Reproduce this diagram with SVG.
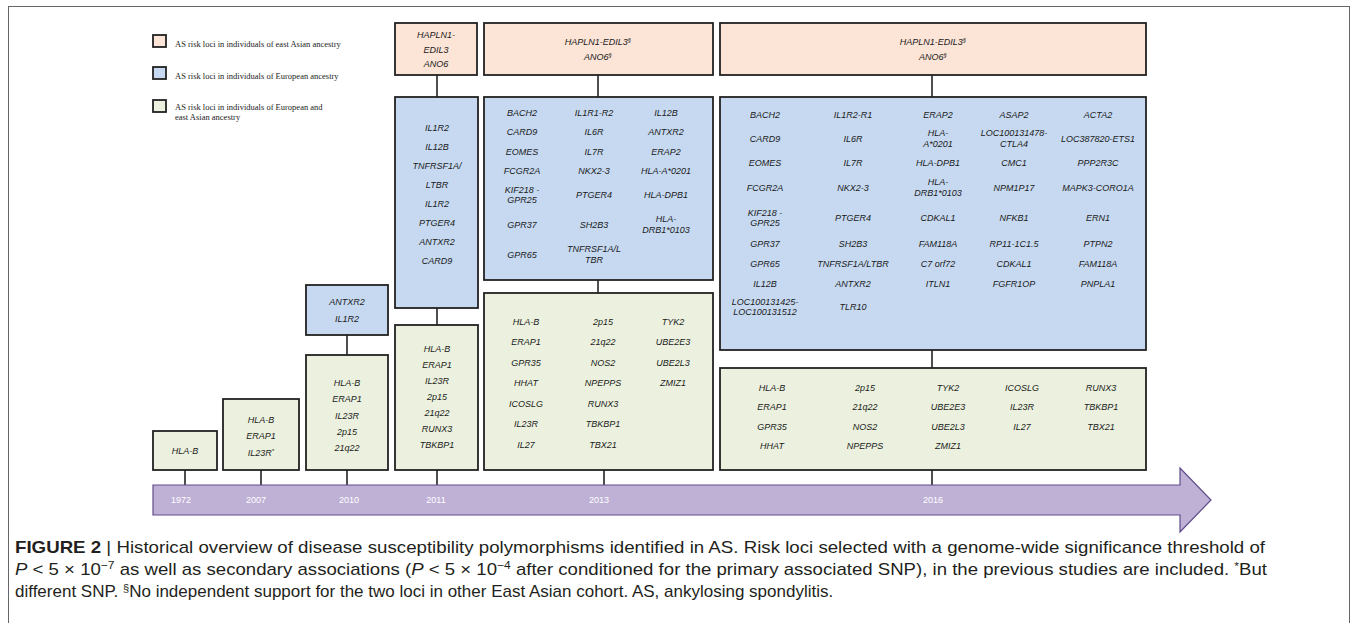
<svg xmlns="http://www.w3.org/2000/svg" width="1357" height="623" viewBox="0 0 1357 623">
<style>
.bx{stroke:#222;stroke-width:1.8}
.o{fill:#fce4d6}.b{fill:#c6d9f1}.g{fill:#ebf1de}
.t{font-family:"Liberation Sans",Arial,sans-serif;font-style:italic;font-size:9px;fill:#1a1a1a;text-anchor:middle}
.y{font-family:"Liberation Sans",Arial,sans-serif;font-size:9px;fill:#ffffff;text-anchor:middle}
.lg{font-family:"Liberation Serif","Times New Roman",serif;font-size:8.5px;fill:#222}
.cap{font-family:"Liberation Sans",Arial,sans-serif;font-size:17px;fill:#231f20}
.sp{font-size:6px}
.cn{stroke:#222;stroke-width:1.6;fill:none}
</style>
<rect x="8.5" y="6.5" width="1341" height="630" fill="#fff" stroke="#666" stroke-width="1"/>

<g id="legend">
<rect class="bx o" x="153" y="35" width="13" height="12"/>
<text class="lg" x="175" y="47">AS risk loci in individuals of east Asian ancestry</text>
<rect class="bx b" x="153" y="67" width="13" height="12"/>
<text class="lg" x="175" y="79">AS risk loci in individuals of European ancestry</text>
<rect class="bx g" x="153" y="100" width="13" height="12"/>
<text class="lg" x="175" y="110">AS risk loci in individuals of European and</text>
<text class="lg" x="175" y="120">east Asian ancestry</text>
</g>

<g id="connectors">
<line class="cn" x1="185" y1="470" x2="185" y2="485"/>
<line class="cn" x1="261" y1="470" x2="261" y2="485"/>
<line class="cn" x1="347" y1="335" x2="347" y2="355"/>
<line class="cn" x1="347" y1="470" x2="347" y2="485"/>
<line class="cn" x1="437" y1="75" x2="437" y2="97"/>
<line class="cn" x1="437" y1="308" x2="437" y2="325"/>
<line class="cn" x1="437" y1="470" x2="437" y2="485"/>
<line class="cn" x1="598" y1="75" x2="598" y2="97"/>
<line class="cn" x1="598" y1="280" x2="598" y2="293"/>
<line class="cn" x1="604" y1="470" x2="604" y2="485"/>
<line class="cn" x1="932" y1="75" x2="932" y2="97"/>
<line class="cn" x1="932" y1="350" x2="932" y2="368"/>
<line class="cn" x1="932" y1="470" x2="932" y2="485"/>
</g>

<g id="timeline">
<path d="M153,485 H1180 V468 L1211,500 L1180,532 V515 H153 Z" fill="#bfb1d6" stroke="#5e4b88" stroke-width="1.2"/>
<text class="y" x="181" y="503">1972</text>
<text class="y" x="256" y="503">2007</text>
<text class="y" x="349" y="503">2010</text>
<text class="y" x="436" y="503">2011</text>
<text class="y" x="599" y="503">2013</text>
<text class="y" x="933" y="503">2016</text>
</g>

<g id="n1972">
<rect class="bx g" x="153" y="431" width="64" height="39"/>
<text class="t" x="185" y="454">HLA-B</text>
</g>

<g id="n2007">
<rect class="bx g" x="223" y="399" width="76" height="71"/>
<text class="t" x="261" y="423">HLA-B</text>
<text class="t" x="261" y="439">ERAP1</text>
<text class="t" x="261" y="456">IL23R<tspan class="sp" dy="-3">*</tspan></text>
</g>

<g id="n2010-eur">
<rect class="bx b" x="306" y="285" width="82" height="50"/>
<text class="t" x="347" y="305">ANTXR2</text>
<text class="t" x="347" y="322">IL1R2</text>
</g>
<g id="n2010-both">
<rect class="bx g" x="306" y="355" width="82" height="115"/>
<text class="t" x="347" y="386">HLA-B</text>
<text class="t" x="347" y="402">ERAP1</text>
<text class="t" x="347" y="419">IL23R</text>
<text class="t" x="347" y="435">2p15</text>
<text class="t" x="347" y="451">21q22</text>
</g>

<g id="n2011-eas">
<rect class="bx o" x="395" y="23" width="82" height="52"/>
<text class="t" x="436" y="38">HAPLN1-</text>
<text class="t" x="436" y="53">EDIL3</text>
<text class="t" x="436" y="67">ANO6</text>
</g>
<g id="n2011-eur">
<rect class="bx b" x="395" y="97" width="83" height="211"/>
<text class="t" x="437" y="131">IL1R2</text>
<text class="t" x="437" y="150">IL12B</text>
<text class="t" x="437" y="169">TNFRSF1A/</text>
<text class="t" x="437" y="188">LTBR</text>
<text class="t" x="437" y="207">IL1R2</text>
<text class="t" x="437" y="226">PTGER4</text>
<text class="t" x="437" y="245">ANTXR2</text>
<text class="t" x="437" y="264">CARD9</text>
</g>
<g id="n2011-both">
<rect class="bx g" x="395" y="325" width="83" height="145"/>
<text class="t" x="437" y="352">HLA-B</text>
<text class="t" x="437" y="368">ERAP1</text>
<text class="t" x="437" y="384">IL23R</text>
<text class="t" x="437" y="400">2p15</text>
<text class="t" x="437" y="416">21q22</text>
<text class="t" x="437" y="432">RUNX3</text>
<text class="t" x="437" y="448">TBKBP1</text>
</g>

<g id="n2013-eas">
<rect class="bx o" x="484" y="23" width="229" height="52"/>
<text class="t" x="598" y="45">HAPLN1-EDIL3<tspan class="sp" dy="-3">§</tspan></text>
<text class="t" x="598" y="60">ANO6<tspan class="sp" dy="-3">§</tspan></text>
</g>
<g id="n2013-eur">
<rect class="bx b" x="484" y="97" width="229" height="183"/>
<text class="t" x="522" y="116">BACH2</text>
<text class="t" x="522" y="135">CARD9</text>
<text class="t" x="522" y="155">EOMES</text>
<text class="t" x="522" y="174">FCGR2A</text>
<text class="t" x="522" y="193">KIF218 -</text>
<text class="t" x="522" y="203">GPR25</text>
<text class="t" x="522" y="228">GPR37</text>
<text class="t" x="522" y="258">GPR65</text>
<text class="t" x="594" y="116">IL1R1-R2</text>
<text class="t" x="594" y="135">IL6R</text>
<text class="t" x="594" y="155">IL7R</text>
<text class="t" x="594" y="174">NKX2-3</text>
<text class="t" x="594" y="198">PTGER4</text>
<text class="t" x="594" y="228">SH2B3</text>
<text class="t" x="594" y="252">TNFRSF1A/L</text>
<text class="t" x="594" y="263">TBR</text>
<text class="t" x="666" y="116">IL12B</text>
<text class="t" x="666" y="135">ANTXR2</text>
<text class="t" x="666" y="155">ERAP2</text>
<text class="t" x="666" y="174">HLA-A*0201</text>
<text class="t" x="666" y="198">HLA-DPB1</text>
<text class="t" x="666" y="222">HLA-</text>
<text class="t" x="666" y="233">DRB1*0103</text>
</g>
<g id="n2013-both">
<rect class="bx g" x="484" y="293" width="229" height="177"/>
<text class="t" x="526" y="325">HLA-B</text>
<text class="t" x="526" y="345">ERAP1</text>
<text class="t" x="526" y="366">GPR35</text>
<text class="t" x="526" y="386">HHAT</text>
<text class="t" x="526" y="407">ICOSLG</text>
<text class="t" x="526" y="427">IL23R</text>
<text class="t" x="526" y="448">IL27</text>
<text class="t" x="603" y="325">2p15</text>
<text class="t" x="603" y="345">21q22</text>
<text class="t" x="603" y="366">NOS2</text>
<text class="t" x="603" y="386">NPEPPS</text>
<text class="t" x="603" y="407">RUNX3</text>
<text class="t" x="603" y="427">TBKBP1</text>
<text class="t" x="603" y="448">TBX21</text>
<text class="t" x="673" y="325">TYK2</text>
<text class="t" x="673" y="345">UBE2E3</text>
<text class="t" x="673" y="366">UBE2L3</text>
<text class="t" x="673" y="386">ZMIZ1</text>
</g>

<g id="n2016-eas">
<rect class="bx o" x="720" y="23" width="426" height="52"/>
<text class="t" x="933" y="45">HAPLN1-EDIL3<tspan class="sp" dy="-3">§</tspan></text>
<text class="t" x="933" y="60">ANO6<tspan class="sp" dy="-3">§</tspan></text>
</g>
<g id="n2016-eur">
<rect class="bx b" x="720" y="97" width="426" height="253"/>
<text class="t" x="765" y="118">BACH2</text>
<text class="t" x="765" y="142">CARD9</text>
<text class="t" x="765" y="166">EOMES</text>
<text class="t" x="765" y="191">FCGR2A</text>
<text class="t" x="765" y="216">KIF218 -</text>
<text class="t" x="765" y="226">GPR25</text>
<text class="t" x="765" y="247">GPR37</text>
<text class="t" x="765" y="267">GPR65</text>
<text class="t" x="765" y="287">IL12B</text>
<text class="t" x="765" y="305">LOC100131425-</text>
<text class="t" x="765" y="315">LOC100131512</text>
<text class="t" x="853" y="118">IL1R2-R1</text>
<text class="t" x="853" y="142">IL6R</text>
<text class="t" x="853" y="166">IL7R</text>
<text class="t" x="853" y="191">NKX2-3</text>
<text class="t" x="853" y="221">PTGER4</text>
<text class="t" x="853" y="247">SH2B3</text>
<text class="t" x="853" y="267">TNFRSF1A/LTBR</text>
<text class="t" x="853" y="287">ANTXR2</text>
<text class="t" x="853" y="310">TLR10</text>
<text class="t" x="938" y="118">ERAP2</text>
<text class="t" x="938" y="136">HLA-</text>
<text class="t" x="938" y="147">A*0201</text>
<text class="t" x="938" y="166">HLA-DPB1</text>
<text class="t" x="938" y="185">HLA-</text>
<text class="t" x="938" y="196">DRB1*0103</text>
<text class="t" x="938" y="221">CDKAL1</text>
<text class="t" x="938" y="247">FAM118A</text>
<text class="t" x="938" y="267">C7 orf72</text>
<text class="t" x="938" y="287">ITLN1</text>
<text class="t" x="1014" y="118">ASAP2</text>
<text class="t" x="1014" y="136">LOC100131478-</text>
<text class="t" x="1014" y="147">CTLA4</text>
<text class="t" x="1014" y="166">CMC1</text>
<text class="t" x="1014" y="191">NPM1P17</text>
<text class="t" x="1014" y="221">NFKB1</text>
<text class="t" x="1014" y="247">RP11-1C1.5</text>
<text class="t" x="1014" y="267">CDKAL1</text>
<text class="t" x="1014" y="287">FGFR1OP</text>
<text class="t" x="1098" y="118">ACTA2</text>
<text class="t" x="1098" y="142">LOC387820-ETS1</text>
<text class="t" x="1098" y="166">PPP2R3C</text>
<text class="t" x="1098" y="191">MAPK3-CORO1A</text>
<text class="t" x="1098" y="221">ERN1</text>
<text class="t" x="1098" y="247">PTPN2</text>
<text class="t" x="1098" y="267">FAM118A</text>
<text class="t" x="1098" y="287">PNPLA1</text>
</g>
<g id="n2016-both">
<rect class="bx g" x="720" y="368" width="426" height="102"/>
<text class="t" x="772" y="391">HLA-B</text>
<text class="t" x="772" y="410">ERAP1</text>
<text class="t" x="772" y="430">GPR35</text>
<text class="t" x="772" y="449">HHAT</text>
<text class="t" x="865" y="391">2p15</text>
<text class="t" x="865" y="410">21q22</text>
<text class="t" x="865" y="430">NOS2</text>
<text class="t" x="865" y="449">NPEPPS</text>
<text class="t" x="948" y="391">TYK2</text>
<text class="t" x="948" y="410">UBE2E3</text>
<text class="t" x="948" y="430">UBE2L3</text>
<text class="t" x="948" y="449">ZMIZ1</text>
<text class="t" x="1022" y="391">ICOSLG</text>
<text class="t" x="1022" y="410">IL23R</text>
<text class="t" x="1022" y="430">IL27</text>
<text class="t" x="1101" y="391">RUNX3</text>
<text class="t" x="1101" y="410">TBKBP1</text>
<text class="t" x="1101" y="430">TBX21</text>
</g>

<g id="caption">
<text class="cap" x="15" y="553" textLength="1250" lengthAdjust="spacingAndGlyphs"><tspan font-weight="bold">FIGURE 2</tspan> | Historical overview of disease susceptibility polymorphisms identified in AS. Risk loci selected with a genome-wide significance threshold of</text>
<text class="cap" x="15" y="575" textLength="1252" lengthAdjust="spacingAndGlyphs"><tspan font-style="italic">P</tspan> &lt; 5 × 10<tspan font-size="11" dy="-6">−7</tspan><tspan dy="6"> as well as secondary associations (</tspan><tspan font-style="italic">P</tspan> &lt; 5 × 10<tspan font-size="11" dy="-6">−4</tspan><tspan dy="6"> after conditioned for the primary associated SNP), in the previous studies are included. </tspan><tspan font-size="11" dy="-5">*</tspan><tspan dy="5">But</tspan></text>
<text class="cap" x="15" y="597">different SNP. <tspan font-size="11" dy="-5">§</tspan><tspan dy="5">No independent support for the two loci in other East Asian cohort. AS, ankylosing spondylitis.</tspan></text>
</g>
</svg>
